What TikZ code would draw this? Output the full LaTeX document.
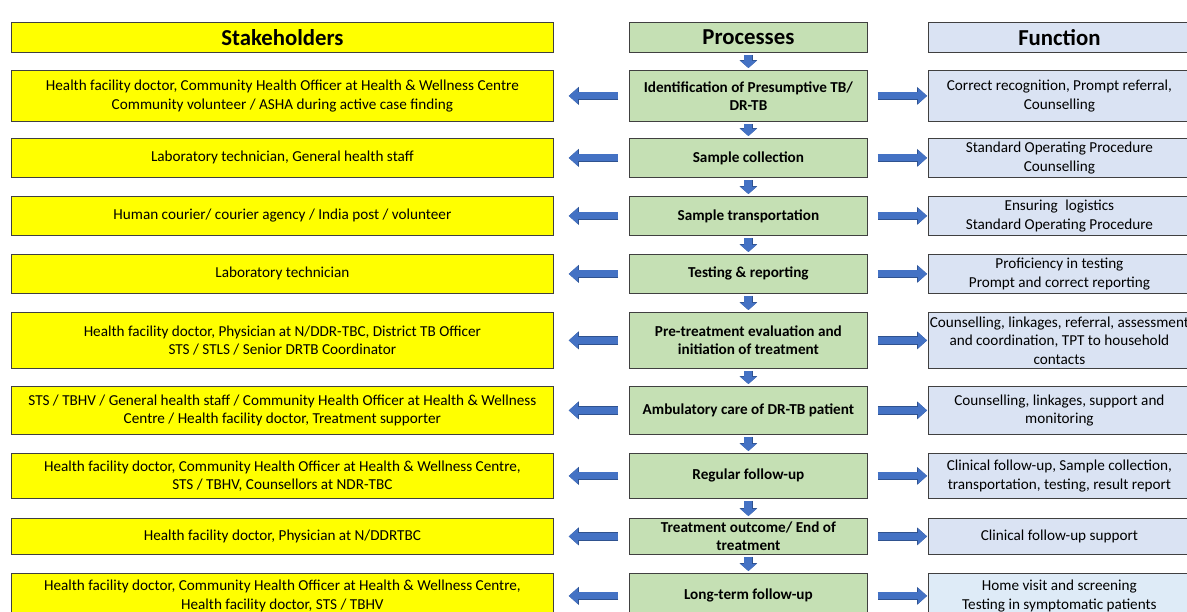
\documentclass[tikz,border=0pt]{standalone}
\usepackage{fontspec}
\setmainfont{Carlito}
\usetikzlibrary{arrows.meta}
\definecolor{stakeyellow}{HTML}{FFFF00}
\definecolor{processgreen}{HTML}{C5E0B4}
\definecolor{functionblue}{HTML}{DAE3F3}
\definecolor{functionpale}{HTML}{DEEBF7}
\definecolor{arrowblue}{HTML}{4472C4}
\definecolor{arrowedge}{HTML}{2F528F}
\definecolor{boxline}{HTML}{404040}

\begin{document}
\begin{tikzpicture}[x=1pt, y=-1pt,
  cell/.style={draw=boxline, line width=0.8pt, inner sep=0pt, anchor=north west,
    align=center, font=\fontsize{15.2}{18.4}\selectfont},
  stake/.style={cell, fill=stakeyellow, minimum width=542pt},
  proc/.style={cell, fill=processgreen, minimum width=238pt,
    font=\fontsize{15.2}{18.4}\selectfont\bfseries},
  func/.style={cell, fill=functionblue, minimum width=262pt},
  head/.style={minimum height=30pt, font=\fontsize{22.8}{26}\selectfont\bfseries},
  flow/.style={draw=arrowblue, line width=7pt,
    -{Triangle[width=16pt,length=9pt,line width=0pt]},
    preaction={draw=arrowedge, line width=8.4pt,
      -{Triangle[width=18pt,length=10pt,line width=0pt]}}},
  toleft/.style={flow, shorten <=11pt, shorten >=15pt},
  toright/.style={flow, shorten <=10pt, shorten >=1pt},
  down/.style={draw=arrowblue, line width=8pt,
    -{Triangle[width=16pt,length=7pt,line width=0pt]},
    preaction={draw=arrowedge, line width=9pt,
      -{Triangle[width=17.5pt,length=7.8pt,line width=0pt]}},
    shorten <=2pt, shorten >=2pt}
]
\clip (0,0) rectangle (1187,612);
\fill[white] (0,0) rectangle (1187,612);

% column headings
\node[stake, head] (sh) at (11,22) {Stakeholders};
\node[proc, head] (ph) at (629,22) {Processes};
\node[func, head] (fh) at (928,22) {Function};

% row 1
\node[stake, minimum height=51pt] (s1) at (11,70)
  {Health facility doctor, Community Health Officer at Health \& Wellness Centre\\Community volunteer / ASHA during active case finding};
\node[proc, minimum height=51pt] (p1) at (629,70) {Identification of Presumptive TB/\\DR-TB};
\node[func, minimum height=51pt] (f1) at (928,70) {Correct recognition, Prompt referral,\\Counselling};

% row 2
\node[stake, minimum height=39pt] (s2) at (11,138) {Laboratory technician, General health staff};
\node[proc, minimum height=39pt] (p2) at (629,138) {Sample collection};
\node[func, minimum height=39pt] (f2) at (928,138) {Standard Operating Procedure\\Counselling};

% row 3
\node[stake, minimum height=39pt] (s3) at (11,196) {Human courier/ courier agency / India post / volunteer};
\node[proc, minimum height=39pt] (p3) at (629,196) {Sample transportation};
\node[func, minimum height=39pt] (f3) at (928,196) {Ensuring\enspace logistics\\Standard Operating Procedure};

% row 4
\node[stake, minimum height=39pt] (s4) at (11,254) {Laboratory technician};
\node[proc, minimum height=39pt] (p4) at (629,254) {Testing \& reporting};
\node[func, minimum height=39pt] (f4) at (928,254) {Proficiency in testing\\Prompt and correct reporting};

% row 5
\node[stake, minimum height=56pt] (s5) at (11,312)
  {Health facility doctor, Physician at N/DDR-TBC, District TB Officer\\STS / STLS / Senior DRTB Coordinator};
\node[proc, minimum height=56pt] (p5) at (629,312) {Pre-treatment evaluation and\\initiation of treatment};
\node[func, minimum height=56pt] (f5) at (928,312)
  {Counselling, linkages, referral, assessment\\and coordination, TPT to household\\contacts};

% row 6
\node[stake, minimum height=48pt] (s6) at (11,386)
  {STS / TBHV / General health staff / Community Health Officer at Health \& Wellness\\Centre / Health facility doctor, Treatment supporter};
\node[proc, minimum height=48pt] (p6) at (629,386) {Ambulatory care of DR-TB patient};
\node[func, minimum height=48pt] (f6) at (928,386) {Counselling, linkages, support and\\monitoring};

% row 7
\node[stake, minimum height=45pt] (s7) at (11,453)
  {Health facility doctor, Community Health Officer at Health \& Wellness Centre,\\STS / TBHV, Counsellors at NDR-TBC};
\node[proc, minimum height=45pt] (p7) at (629,453) {Regular follow-up};
\node[func, minimum height=45pt] (f7) at (928,453)
  {Clinical follow-up, Sample collection,\\transportation, testing, result report};

% row 8
\node[stake, minimum height=36pt] (s8) at (11,518) {Health facility doctor, Physician at N/DDRTBC};
\node[proc, minimum height=36pt] (p8) at (629,518) {Treatment outcome/ End of\\treatment};
\node[func, minimum height=36pt] (f8) at (928,518) {Clinical follow-up support};

% row 9
\node[stake, minimum height=45pt] (s9) at (11,573)
  {Health facility doctor, Community Health Officer at Health \& Wellness Centre,\\Health facility doctor, STS / TBHV};
\node[proc, minimum height=45pt] (p9) at (629,573) {Long-term follow-up};
\node[func, fill=functionpale, minimum height=45pt] (f9) at (928,573)
  {Home visit and screening\\Testing in symptomatic patients};

% flow down the process column
\draw[down] (ph.south) -- (p1.north);
\foreach \a/\b in {1/2,2/3,3/4,4/5,5/6,6/7,7/8,8/9}
  \draw[down] (p\a.south) -- (p\b.north);

% each process points to its stakeholders and its function
\foreach \i in {1,...,9} {
  \draw[toleft] (p\i.west) -- (s\i.east);
  \draw[toright] (p\i.east) -- (f\i.west);
}
\end{tikzpicture}
\end{document}
